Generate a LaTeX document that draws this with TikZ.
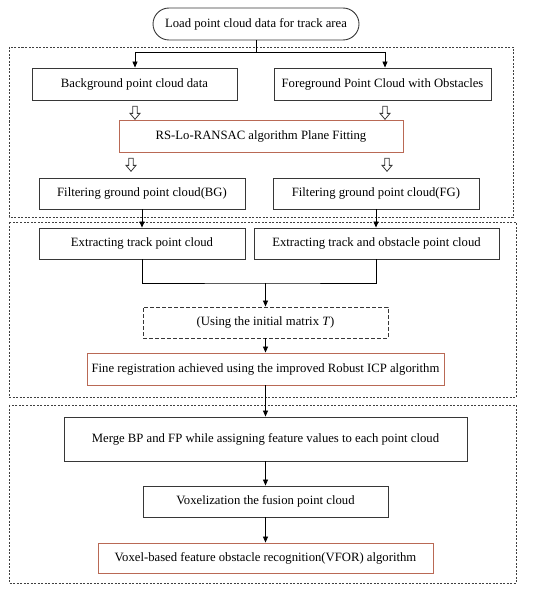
\documentclass[tikz,border=0pt]{standalone}
\usepackage{fontspec}
\setmainfont{Liberation Serif}
\usetikzlibrary{shapes.arrows,arrows.meta,calc}
\definecolor{boxline}{RGB}{55,55,55}
\definecolor{redline}{RGB}{185,105,85}
\begin{document}
\begin{tikzpicture}[x=1pt,y=1pt,
  box/.style={draw=boxline,line width=0.9pt,fill=white,inner sep=0pt,align=center,font=\fontsize{12.7}{15}\selectfont},
  redbox/.style={box,draw=redline},
  dbox/.style={box,dashed,dash pattern=on 4pt off 2pt},
  region/.style={draw=black!75,line width=0.6pt,dash pattern=on 2pt off 1.5pt},
  arr/.style={line width=0.8pt,-{Triangle[length=6pt,width=5pt]}},
  ln/.style={line width=0.8pt},
  hollow/.style={shape=single arrow,draw=boxline,fill=white,line width=0.8pt,rotate=-90,minimum height=13pt,inner sep=1.8pt,single arrow head extend=2.8pt,single arrow tip angle=80}
  ]
\useasboundingbox (0,0) rectangle (550,-591);
% regions
\draw[region] (9,-47) rectangle (513,-217);
\draw[region] (9,-222) rectangle (516,-397);
\draw[region] (9,-405) rectangle (516,-583);
% nodes
\node[box,rounded corners=16pt,minimum width=206pt,minimum height=32pt] (top) at (256,-24) {Load point cloud data for track area};
\node[box,minimum width=205pt,minimum height=32pt] (bg) at (134.5,-84) {Background point cloud data};
\node[box,minimum width=217pt,minimum height=32pt] (fg) at (382.5,-84) {Foreground Point Cloud with Obstacles};
\node[redbox,minimum width=284pt,minimum height=32pt] (rs) at (261,-136) {RS-Lo-RANSAC algorithm Plane Fitting};
\node[box,minimum width=206pt,minimum height=31pt] (fbg) at (142,-193.5) {Filtering ground point cloud(BG)};
\node[box,minimum width=206pt,minimum height=31pt] (ffg) at (376,-193.5) {Filtering ground point cloud(FG)};
\node[box,minimum width=206pt,minimum height=31pt] (et) at (142,-243.5) {Extracting track point cloud};
\node[box,minimum width=245pt,minimum height=31pt] (eo) at (376.5,-243.5) {Extracting track and obstacle point cloud};
\node[dbox,minimum width=245pt,minimum height=31pt] (ut) at (265.5,-322.5) {(Using the initial matrix \textit{T})};
\node[redbox,minimum width=357pt,minimum height=32pt] (fr) at (265.5,-369) {Fine registration achieved using the improved Robust ICP algorithm};
\node[box,minimum width=403pt,minimum height=44pt] (mg) at (265.5,-439) {Merge BP and FP while assigning feature values to each point cloud};
\node[box,minimum width=245pt,minimum height=31pt] (vx) at (265.5,-501.5) {Voxelization the fusion point cloud};
\node[redbox,minimum width=335pt,minimum height=30pt] (vf) at (265.5,-558) {Voxel-based feature obstacle recognition(VFOR) algorithm};
% hollow arrows
\node[hollow] (h1) at (135,-111.5) {};
\node[hollow] (h2) at (385,-111.5) {};
\node[hollow] (h3) at (131,-163.5) {};
\node[hollow] (h4) at (387,-163.5) {};
% connectors
\coordinate (s1) at (256,-52);
\coordinate (s1l) at (135,-52);
\coordinate (s1r) at (385,-52);
\draw[ln] (top.south) -- (s1);
\draw[ln] (s1l) -- (s1r);
\draw[arr] (s1l) -- (s1l |- bg.north);
\draw[arr] (s1r) -- (s1r |- fg.north);
\draw[arr] (fbg.south) -- (et.north);
\draw[arr] (ffg.south) -- (ffg.south |- eo.north);
\coordinate (m) at (265.5,-283);
\draw[ln] (et.south) |- (m) -| (eo.south);
\draw[arr] (m) -- (ut.north);
\draw[arr] (ut.south) -- (fr.north);
\draw[arr] (fr.south) -- (mg.north);
\draw[arr] (mg.south) -- (vx.north);
\draw[arr] (vx.south) -- (vf.north);
\end{tikzpicture}
\end{document}
